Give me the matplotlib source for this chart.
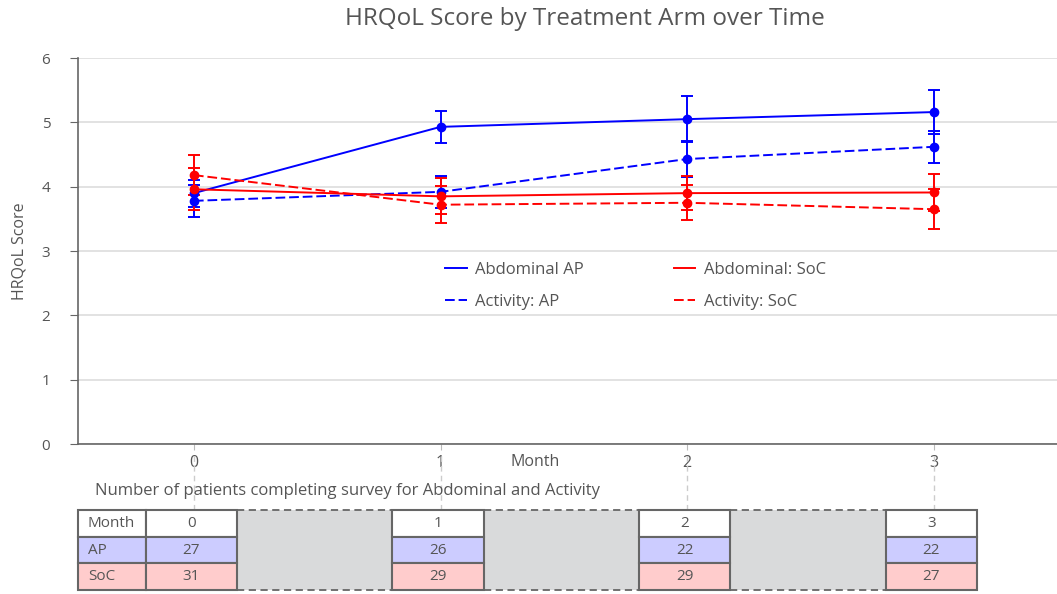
import numpy as np
import matplotlib.pyplot as plt
from matplotlib.patches import Rectangle
from matplotlib.lines import Line2D

plt.rcParams['font.family'] = ['Open Sans', 'DejaVu Sans']

# survey months
months = [0, 1, 2, 3]

# mean HRQoL scores and error half-widths
abd_ap = [3.90, 4.93, 5.05, 5.16]
abd_ap_err = [0.21, 0.25, 0.36, 0.34]
act_ap = [3.78, 3.92, 4.43, 4.62]
act_ap_err = [0.25, 0.25, 0.28, 0.25]
abd_soc = [3.96, 3.85, 3.90, 3.91]
abd_soc_err = [0.33, 0.28, 0.27, 0.29]
act_soc = [4.18, 3.72, 3.75, 3.65]
act_soc_err = [0.31, 0.29, 0.27, 0.31]

# patients completing survey
n_ap = [27, 26, 22, 22]
n_soc = [31, 29, 29, 27]

TXT = "#555555"
AXC = "#666666"
XLIM = (-0.47, 3.5)
DASH = (0, (5, 2))

fig = plt.figure(figsize=(10.57, 5.94), dpi=100)
ax = fig.add_axes([0.0738, 0.2525, 0.9262, 0.6498])

series = [
    (abd_ap, abd_ap_err, "blue", "-", "Abdominal AP"),
    (act_ap, act_ap_err, "blue", DASH, "Activity: AP"),
    (abd_soc, abd_soc_err, "red", "-", "Abdominal: SoC"),
    (act_soc, act_soc_err, "red", DASH, "Activity: SoC"),
]
handles = []
for y, err, col, ls, name in series:
    ax.errorbar(months, y, yerr=err, fmt="none", ecolor=col, elinewidth=1.4,
                capsize=4, capthick=1.4, zorder=3)
    ax.plot(months, y, color=col, ls=ls, lw=1.4, marker="o", markersize=6, zorder=4)
    handles.append(Line2D([], [], color=col, ls=ls, lw=1.4, label=name))

ax.set_xlim(*XLIM)
ax.set_ylim(0, 6)
ax.set_yticks(range(7))
ax.set_xticks(months)
ax.grid(axis="y", color="#dddddd", lw=1.2)
ax.set_axisbelow(True)
for s in ["top", "right"]:
    ax.spines[s].set_visible(False)
for s in ["left", "bottom"]:
    ax.spines[s].set_color(AXC)
    ax.spines[s].set_linewidth(1.2)
ax.tick_params(axis="y", colors=AXC, labelcolor=TXT, labelsize=11, length=6, pad=14)
ax.tick_params(axis="x", colors="#bbbbbb", labelcolor=TXT, labelsize=11.5, length=4, pad=4)
ax.set_ylabel("HRQoL Score", color=TXT, fontsize=11.5, labelpad=10)
ax.set_xlabel("Month", color=TXT, fontsize=11.5)
ax.xaxis.set_label_coords((535 - 78) / 979, -0.027)
ax.set_title("HRQoL Score by Treatment Arm over Time", color=TXT, fontsize=17.5, pad=24,
             x=(585 - 78) / 979)

# legend order: column-first fill gives Abdominal on top row
leg = ax.legend(handles=handles, ncol=2, loc="upper left", bbox_to_anchor=(0.373, 0.477),
                frameon=True, fontsize=12, handlelength=1.3, handletextpad=0.5,
                columnspacing=5.4, labelspacing=1.0, borderaxespad=0, borderpad=0.1)
leg.get_frame().set_edgecolor("none")
leg.get_frame().set_facecolor("white")
leg.get_frame().set_alpha(1)
for t in leg.get_texts():
    t.set_color(TXT)

# patient count table
tb = fig.add_axes([0.0738, 0.0067, 0.9262, 0.1347])
tb.set_xlim(*XLIM)
tb.set_ylim(0, 3)
tb.axis("off")
half = 0.185
lab_left = XLIM[0]
lab_right = months[0] - half - 0.01
rows = [("Month", months, "white", 2), ("AP", n_ap, "#ccccff", 1), ("SoC", n_soc, "#ffcccc", 0)]
for name, vals, fc, y0 in rows:
    tb.add_patch(Rectangle((lab_left, y0), lab_right - lab_left, 1, fc=fc, ec=AXC, lw=1.5,
                           clip_on=False))
    tb.text(lab_left + 0.04, y0 + 0.5, name, color=TXT, fontsize=11, va="center", ha="left")
    for m, v in zip(months, vals):
        tb.add_patch(Rectangle((m - half - 0.01, y0), 2 * half, 1, fc=fc, ec=AXC, lw=1.5,
                               clip_on=False))
        tb.text(m - 0.01, y0 + 0.5, str(v), color=TXT, fontsize=11, va="center", ha="center")
for a, b in zip(months[:-1], months[1:]):
    x0 = a + half - 0.01
    x1 = b - half - 0.01
    tb.add_patch(Rectangle((x0, 0), x1 - x0, 3, fc="#d9dadb", ec="none", zorder=0))
    tb.plot([x0, x1], [3, 3], color=AXC, lw=1.3, ls=(0, (4, 2.5)), clip_on=False)
    tb.plot([x0, x1], [0, 0], color=AXC, lw=1.3, ls=(0, (4, 2.5)), clip_on=False)
for m in months:
    tb.plot([m, m], [3, 5.05], color="#cccccc", lw=1, ls=(0, (4, 3)), clip_on=False, zorder=0)

fig.text(95 / 1057, 1 - 491 / 594, "Number of patients completing survey for Abdominal and Activity",
         color=TXT, fontsize=12, va="center", ha="left")

fig.savefig("out.png", dpi=100)
